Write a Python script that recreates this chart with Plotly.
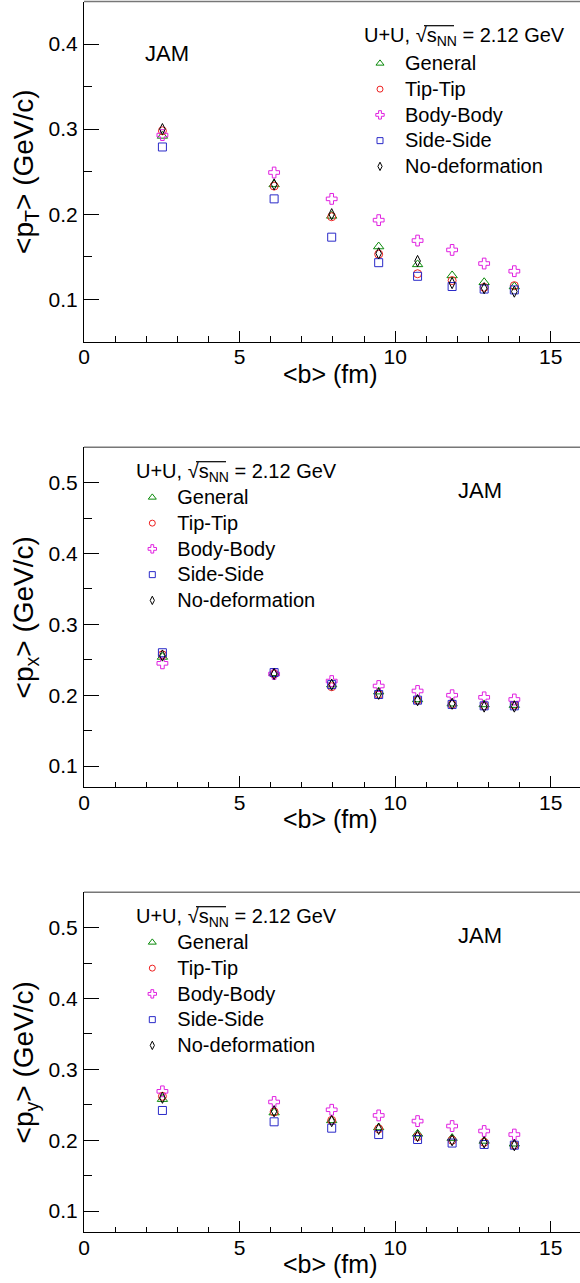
import plotly.graph_objects as go

# impact parameter <b> (fm), shared by every series
b_fm = [2.52, 6.11, 7.96, 9.47, 10.72, 11.83, 12.86, 13.83]

series_names = ["General", "Tip-Tip", "Body-Body", "Side-Side", "No-deformation"]

# <pT> (GeV/c)
pt_general = [0.292, 0.235, 0.198, 0.162, 0.141, 0.128, 0.120, 0.115]
pt_tip     = [0.298, 0.233, 0.197, 0.153, 0.130, 0.122, 0.114, 0.116]
pt_body    = [0.293, 0.249, 0.218, 0.193, 0.169, 0.158, 0.142, 0.133]
pt_side    = [0.279, 0.218, 0.173, 0.143, 0.127, 0.115, 0.112, 0.111]
pt_nodef   = [0.300, 0.235, 0.200, 0.154, 0.145, 0.119, 0.113, 0.109]

# <px> (GeV/c)
px_general = [0.254, 0.231, 0.215, 0.205, 0.194, 0.188, 0.187, 0.186]
px_tip     = [0.257, 0.230, 0.212, 0.201, 0.193, 0.187, 0.185, 0.186]
px_body    = [0.245, 0.230, 0.220, 0.213, 0.206, 0.200, 0.197, 0.194]
px_side    = [0.260, 0.232, 0.215, 0.201, 0.193, 0.187, 0.185, 0.185]
px_nodef   = [0.256, 0.230, 0.215, 0.202, 0.193, 0.188, 0.184, 0.184]

# <py> (GeV/c)
py_general = [0.258, 0.239, 0.228, 0.218, 0.209, 0.203, 0.199, 0.195]
py_tip     = [0.262, 0.240, 0.228, 0.216, 0.205, 0.200, 0.197, 0.193]
py_body    = [0.269, 0.254, 0.243, 0.235, 0.227, 0.220, 0.213, 0.208]
py_side    = [0.242, 0.226, 0.217, 0.208, 0.201, 0.196, 0.194, 0.193]
py_nodef   = [0.260, 0.241, 0.227, 0.216, 0.206, 0.200, 0.197, 0.193]

x_ticks = [0, 5, 10, 15]

FONT = "Liberation Sans, Arial, Helvetica, sans-serif"
W, H = 580, 1283
L = 84

styles = [
    dict(symbol="triangle-up-open", color="#0a8a0a", size=9, lsize=7),
    dict(symbol="circle-open", color="#ee2020", size=8, lsize=6),
    dict(symbol="cross-open", color="#e020e0", size=9, lsize=7),
    dict(symbol="square-open", color="#2a2ac8", size=8, lsize=6),
    dict(symbol="diamond-tall-open", color="#000000", size=8, lsize=6),
]

panels = [
    dict(vals=[pt_general, pt_tip, pt_body, pt_side, pt_nodef], top=1.5, bot=341.8,
         yr=[0.05, 0.45], ytitle="&lt;p<sub>T</sub>&gt; (GeV/c)"),
    dict(vals=[px_general, px_tip, px_body, px_side, px_nodef], top=447.3, bot=787.3,
         yr=[0.07, 0.55], ytitle="&lt;p<sub>x</sub>&gt; (GeV/c)"),
    dict(vals=[py_general, py_tip, py_body, py_side, py_nodef], top=892.3, bot=1232.3,
         yr=[0.07, 0.55], ytitle="&lt;p<sub>y</sub>&gt; (GeV/c)"),
]

# legend placement (pixel positions of first marker row) and header / label anchors
legend_pos = [
    dict(mx=380, row0=58.5, hx=362, hy=36.7, jx=167, jy=53),
    dict(mx=152.3, row0=492.5, hx=134, hy=472.7, jx=480, jy=490),
    dict(mx=152.3, row0=937.5, hx=134, hy=917.7, jx=480, jy=935),
]

def px2x(p):
    return (p - L) / (W - L)

def px2y(p):
    return 1 - p / H

fig = go.Figure()
layout = dict(
    width=W, height=H,
    margin=dict(l=L, r=0, t=0, b=0),
    paper_bgcolor="white", plot_bgcolor="white",
    font=dict(family=FONT, color="black"),
    annotations=[], shapes=[],
)

for i, pnl in enumerate(panels):
    k = "" if i == 0 else str(i + 1)
    legname = "legend" if i == 0 else f"legend{i + 1}"
    for name, vals, st in zip(series_names, pnl["vals"], styles):
        # data points
        fig.add_trace(go.Scatter(
            x=b_fm, y=vals, mode="markers", name=name, showlegend=False,
            xaxis="x" + k, yaxis="y" + k,
            marker=dict(symbol=st["symbol"], size=st["size"], color=st["color"],
                        line=dict(color=st["color"], width=1)),
        ))
        # legend key (smaller marker than the data points)
        fig.add_trace(go.Scatter(
            x=[None], y=[None], mode="markers",
            name=f"<span style='font-size:20px'>{name}</span>",
            xaxis="x" + k, yaxis="y" + k, legend=legname, hoverinfo="skip",
            marker=dict(symbol=st["symbol"], size=st["lsize"], color=st["color"],
                        line=dict(color=st["color"], width=1)),
        ))

    layout["xaxis" + k] = dict(
        domain=[0, 1], range=[0, 15.94], anchor="y" + k,
        tickvals=x_ticks, ticks="inside", ticklen=11, tickwidth=1, tickcolor="black",
        minor=dict(dtick=1, tick0=0, ticks="inside", ticklen=5.5, tickcolor="black"),
        showline=True, linecolor="black", linewidth=1, showgrid=False, zeroline=False,
        tickfont=dict(size=21, family=FONT), ticklabelstandoff=-4,
    )
    layout["yaxis" + k] = dict(
        domain=[px2y(pnl["bot"]), px2y(pnl["top"])], range=pnl["yr"], anchor="x" + k,
        dtick=0.1, tick0=0, ticks="inside", ticklen=15, tickwidth=1, tickcolor="black",
        minor=dict(dtick=0.05, tick0=0, ticks="inside", ticklen=7.5, tickcolor="black"),
        showline=True, linecolor="black", linewidth=1, showgrid=False, zeroline=False,
        tickfont=dict(size=21, family=FONT), ticklabelstandoff=1,
        title=dict(text=pnl["ytitle"], font=dict(size=28, family=FONT), standoff=6),
    )

    # top frame edge
    layout["shapes"].append(dict(
        type="line", xref="x" + k + " domain", yref="y" + k + " domain",
        x0=0, x1=1, y0=1, y1=1, line=dict(color="#777777", width=1.5)))

    # x-axis title
    layout["annotations"].append(dict(
        text="&lt;b&gt; (fm)", xref="paper", yref="paper",
        x=px2x(330), y=px2y(pnl["bot"] + 32),
        xanchor="center", yanchor="middle", showarrow=False,
        font=dict(size=25, family=FONT)))

    lp = legend_pos[i]
    # legend header with the radical's bar drawn over s_NN
    layout["annotations"].append(dict(
        text="U+U, \u221as<sub>NN</sub> = 2.12 GeV", xref="paper", yref="paper",
        x=px2x(lp["hx"]), y=px2y(lp["hy"]), xanchor="left", yanchor="middle",
        showarrow=False, font=dict(size=20, family=FONT)))
    layout["shapes"].append(dict(
        type="line", xref="paper", yref="paper",
        x0=px2x(lp["hx"] + 62), x1=px2x(lp["hx"] + 92),
        y0=px2y(lp["hy"] - 11), y1=px2y(lp["hy"] - 11),
        line=dict(color="black", width=1.2)))
    # model label
    layout["annotations"].append(dict(
        text="JAM", xref="paper", yref="paper",
        x=px2x(lp["jx"]), y=px2y(lp["jy"]), xanchor="center", yanchor="middle",
        showarrow=False, font=dict(size=22, family=FONT)))

    layout[legname] = dict(
        x=px2x(lp["mx"] - 25), y=px2y(lp["row0"] - 13), xanchor="left", yanchor="top",
        bgcolor="rgba(0,0,0,0)", borderwidth=0, itemwidth=40,
        font=dict(size=17.5, family=FONT, color="black"),
        itemsizing="trace", tracegroupgap=0,
    )

fig.update_layout(**layout)
fig.write_html("out.html")
